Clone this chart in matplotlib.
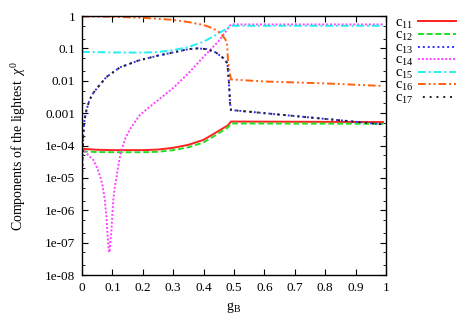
import numpy as np
import matplotlib
matplotlib.use('Agg')
import matplotlib.pyplot as plt
from matplotlib.ticker import LogLocator, FixedLocator, NullFormatter

plt.rcParams['font.family'] = ['Liberation Serif', 'DejaVu Serif']
plt.rcParams['mathtext.fontset'] = 'custom'
plt.rcParams['mathtext.rm'] = 'Liberation Serif'
plt.rcParams['mathtext.it'] = 'Liberation Serif:italic'

# values (g_B, component)
g11 = [0, 0.05, 0.1, 0.2, 0.25, 0.3, 0.35, 0.4, 0.44, 0.48, 0.49, 0.99]
c11 = [7.9e-5, 7.4e-5, 7.2e-5, 7.2e-5, 7.5e-5, 8.5e-5, 1.05e-4, 1.5e-4, 2.5e-4, 4.2e-4, 5.5e-4, 5.3e-4]

g12 = [0, 0.05, 0.1, 0.2, 0.25, 0.3, 0.35, 0.4, 0.44, 0.48, 0.49, 0.99]
c12 = [6.6e-5, 6.3e-5, 6.2e-5, 6.2e-5, 6.4e-5, 7.2e-5, 8.8e-5, 1.25e-4, 2.1e-4, 3.6e-4, 4.8e-4, 4.7e-4]

g13 = [0, 0.001, 0.004, 0.008, 0.015, 0.025, 0.037, 0.05, 0.08, 0.125, 0.185, 0.25,
       0.3, 0.35, 0.38, 0.41, 0.44, 0.465, 0.478, 0.483, 0.487, 0.49, 0.99]
c13 = [1.5e-6, 2e-5, 2e-4, 6e-4, 1.3e-3, 2.6e-3, 4.2e-3, 6e-3, 1.3e-2, 2.6e-2, 4.2e-2, 6e-2,
       7.5e-2, 9.5e-2, 0.1, 0.095, 0.075, 0.05, 0.035, 0.01, 0.002, 1.25e-3, 4.5e-4]

g14 = [0, 0.013, 0.026, 0.037, 0.05, 0.06, 0.068, 0.075, 0.08, 0.083, 0.086, 0.088, 0.09,
       0.092, 0.094, 0.097, 0.1, 0.103, 0.108, 0.114, 0.121, 0.13, 0.143, 0.158, 0.175, 0.19,
       0.22, 0.25, 0.3, 0.35, 0.4, 0.45, 0.49, 0.99]
c14 = [8.5e-5, 6e-5, 4.5e-5, 3.6e-5, 2e-5, 1.1e-5, 5.5e-6, 2.1e-6, 7e-7, 2.5e-7, 1e-7, 6e-8, 5e-8,
       7e-8, 1.3e-7, 2.5e-7, 8e-7, 2.1e-6, 5.5e-6, 1.1e-5, 3e-5, 7.5e-5, 1.7e-4, 3.2e-4, 5.5e-4, 8.7e-4,
       1.5e-3, 2.5e-3, 6e-3, 1.7e-2, 5.5e-2, 0.17, 0.55, 0.55]

g15 = [0, 0.1, 0.2, 0.25, 0.3, 0.35, 0.4, 0.44, 0.47, 0.49, 0.99]
c15 = [0.078, 0.075, 0.074, 0.077, 0.088, 0.11, 0.16, 0.26, 0.38, 0.5, 0.5]

g16 = [0, 0.1, 0.2, 0.3, 0.35, 0.4, 0.43, 0.455, 0.47, 0.477, 0.48, 0.485, 0.49, 0.6, 0.8, 0.99]
c16 = [0.97, 0.95, 0.88, 0.76, 0.65, 0.53, 0.42, 0.3, 0.2, 0.15, 0.045, 0.02, 0.011, 0.0095, 0.0083, 0.0069]

g17 = g13
c17 = [1.5e-6, 2e-5, 2e-4, 6e-4, 1.3e-3, 2.6e-3, 4.2e-3, 6e-3, 1.3e-2, 2.6e-2, 4.2e-2, 6e-2,
       7.5e-2, 9.5e-2, 0.1, 0.095, 0.075, 0.05, 0.035, 0.01, 0.002, 1.25e-3, 4.5e-4]

xticks = [0, 0.1, 0.2, 0.3, 0.4, 0.5, 0.6, 0.7, 0.8, 0.9, 1]
xticklabels = ['0', '0.1', '0.2', '0.3', '0.4', '0.5', '0.6', '0.7', '0.8', '0.9', '1']
yticks = [1e-8, 1e-7, 1e-6, 1e-5, 1e-4, 1e-3, 1e-2, 1e-1, 1]
yticklabels = ['1e-08', '1e-07', '1e-06', '1e-05', '1e-04', '0.001', '0.01', '0.1', '1']

fig = plt.figure(figsize=(4.67, 3.27), dpi=100)
ax = fig.add_axes([0.1756, 0.159, 0.651, 0.792])

lw = 1.4
ax.plot(g11, c11, color='#ff2020', lw=lw, label='c$_{11}$')
ax.plot(g12, c12, color='#20e020', lw=lw, ls=(0, (3, 1.5)), label='c$_{12}$')
ax.plot(g13, c13, color='#3030ff', lw=lw, ls=(0, (1, 1.5)), label='c$_{13}$')
ax.plot(g14, c14, color='#ff40ff', lw=lw, ls=(0, (1, 1)), label='c$_{14}$')
ax.plot(g15, c15, color='#20f0f0', lw=lw, ls=(0, (4, 1.5, 1, 1.5)), label='c$_{15}$')
ax.plot(g16, c16, color='#ff6010', lw=lw, ls=(0, (4, 1.5, 1, 1.5, 1, 1.5)), label='c$_{16}$')
ax.plot(g17, c17, color='#202020', lw=lw, ls=(1, (1, 2.5)), label='c$_{17}$')

ax.set_yscale('log')
ax.set_xlim(0, 1)
ax.set_ylim(1e-8, 1)
ax.xaxis.set_major_locator(FixedLocator(xticks))
ax.set_xticklabels(xticklabels)
ax.yaxis.set_major_locator(FixedLocator(yticks))
ax.set_yticklabels(yticklabels)
ax.yaxis.set_minor_locator(LogLocator(base=10, subs=[2, 5]))
ax.yaxis.set_minor_formatter(NullFormatter())
ax.tick_params(which='both', direction='in', top=True, right=True, labelsize=9.5, pad=5)
ax.tick_params(which='major', length=4)
ax.tick_params(which='minor', length=2)
for s in ax.spines.values():
    s.set_linewidth(1.0)

ax.set_xlabel('g$_\\mathrm{B}$', fontsize=10, labelpad=4)
ax.set_ylabel('Components of the lightest  $\\chi^0$', fontsize=10, labelpad=12)

leg = fig.legend(loc='upper left', bbox_to_anchor=(0.845, 0.95), frameon=False,
                 fontsize=10.5, handlelength=2.6, handletextpad=0.3, labelspacing=-0.12,
                 borderpad=0, borderaxespad=0, markerfirst=False)

fig.savefig('out.png', dpi=100)
